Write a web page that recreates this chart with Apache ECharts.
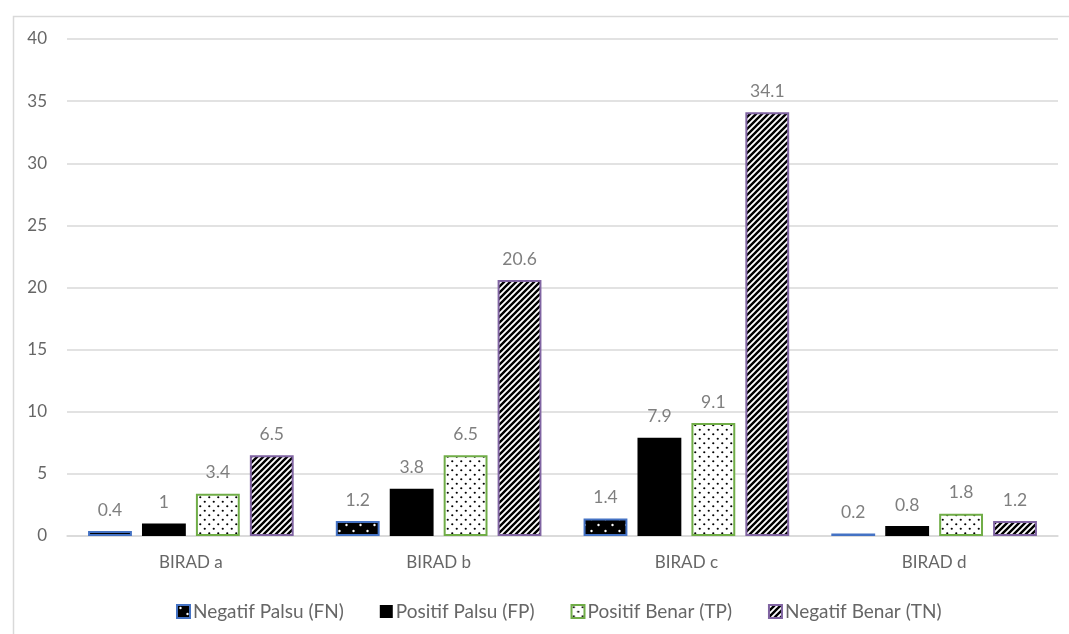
<!DOCTYPE html>
<html>
<head>
<meta charset="utf-8">
<script src="https://cdn.jsdelivr.net/npm/echarts@6/dist/echarts.min.js"></script>
<style>html,body{margin:0;padding:0;background:#fff}#c{width:1069px;height:634px}</style>
</head>
<body>
<div id="c"></div>
<script>
var categories = ['BIRAD a', 'BIRAD b', 'BIRAD c', 'BIRAD d'];
var seriesNames = ['Negatif Palsu (FN)', 'Positif Palsu (FP)', 'Positif Benar (TP)', 'Negatif Benar (TN)'];
var fnValues = [0.4, 1.2, 1.4, 0.2];
var fpValues = [1, 3.8, 7.9, 0.8];
var tpValues = [3.4, 6.5, 9.1, 1.8];
var tnValues = [6.5, 20.6, 34.1, 1.2];
var yTicks = [0, 5, 10, 15, 20, 25, 30, 35, 40];

function dotPattern(bg, fg, w, h, r) {
  var c = document.createElement('canvas');
  c.width = w; c.height = h;
  var g = c.getContext('2d');
  g.fillStyle = bg; g.fillRect(0, 0, w, h);
  g.fillStyle = fg;
  g.beginPath(); g.arc(w * 0.25, h * 0.25, r, 0, Math.PI * 2); g.fill();
  g.beginPath(); g.arc(w * 0.75, h * 0.75, r, 0, Math.PI * 2); g.fill();
  return c;
}
function stripePattern() {
  var s = 6;
  var c = document.createElement('canvas');
  c.width = s; c.height = s;
  var g = c.getContext('2d');
  g.fillStyle = '#fff'; g.fillRect(0, 0, s, s);
  g.strokeStyle = '#000'; g.lineWidth = 2.4;
  g.beginPath();
  g.moveTo(-1, s + 1); g.lineTo(s + 1, -1);
  g.moveTo(-1 - s, s + 1); g.lineTo(1, -1);
  g.moveTo(s - 1, s + 1); g.lineTo(s + s + 1, -1);
  g.stroke();
  return c;
}
var fnPat = {image: dotPattern('#000', '#fff', 14, 12, 1.2), repeat: 'repeat'};
var tpPat = {image: dotPattern('#fff', '#000', 9, 9, 1.1), repeat: 'repeat'};
var tnPat = {image: stripePattern(), repeat: 'repeat'};

var font = 'Lato, "Open Sans", sans-serif';
var labelCfg = {show: true, position: 'top', distance: 12, color: '#7f7f7f', fontSize: 17.5, fontFamily: font};

function mk(name, data, fill, border, bw) {
  return {
    name: name, type: 'bar', data: data,
    barGap: '23%', barCategoryGap: '17%',
    itemStyle: {color: fill, borderColor: border, borderWidth: bw},
    label: labelCfg
  };
}

var chart = echarts.init(document.getElementById('c'), null, {renderer: 'canvas'});
chart.setOption({
  animation: false,
  backgroundColor: '#fff',
  graphic: [{
    type: 'rect', left: 11, top: 14,
    shape: {width: 1100, height: 700},
    style: {fill: 'none', stroke: '#d9d9d9', lineWidth: 1.5},
    silent: true
  }],
  grid: {left: 67, right: 11, top: 39, bottom: 98, containLabel: false},
  legend: {
    data: seriesNames, top: 597, left: 171,
    itemWidth: 13, itemHeight: 13, itemGap: 36,
    textStyle: {color: '#666', fontSize: 19, fontFamily: font, padding: [0, 0, 0, -2]},
    icon: 'rect'
  },
  xAxis: {
    type: 'category', data: categories,
    axisLine: {lineStyle: {color: '#d9d9d9', width: 1.5}},
    axisTick: {show: false},
    axisLabel: {color: '#666', fontSize: 17, fontFamily: font, margin: 18}
  },
  yAxis: {
    type: 'value', min: yTicks[0], max: yTicks[yTicks.length - 1], interval: 5,
    axisLine: {show: false}, axisTick: {show: false},
    splitLine: {lineStyle: {color: '#d9d9d9', width: 1.5}},
    axisLabel: {color: '#666', fontSize: 17, fontFamily: font, margin: 20}
  },
  series: [
    mk(seriesNames[0], fnValues, fnPat, '#4472C4', 2),
    mk(seriesNames[1], fpValues, '#000', '#000', 0),
    mk(seriesNames[2], tpValues, tpPat, '#70AD47', 2),
    mk(seriesNames[3], tnValues, tnPat, '#8064A2', 2)
  ]
});
</script>
</body>
</html>
